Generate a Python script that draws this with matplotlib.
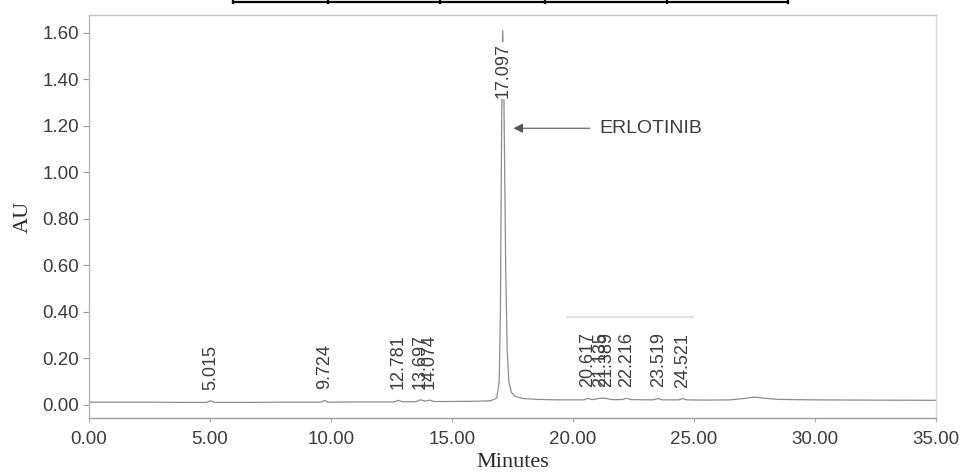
import matplotlib
matplotlib.use("Agg")
import matplotlib.pyplot as plt
from matplotlib.lines import Line2D

# Chromatogram trace (retention time in minutes, absorbance in AU)
time_min = [0.0, 1.0, 2.5, 4.0, 4.85, 5.015, 5.2, 6.5, 8.0, 9.55, 9.724, 9.9,
            11.0, 12.6, 12.781, 12.95, 13.5, 13.697, 13.9, 14.074, 14.25, 15.0,
            16.0, 16.6, 16.85, 16.95, 17.0, 17.04, 17.07, 17.097, 17.13, 17.17,
            17.22, 17.28, 17.35, 17.45, 17.6, 17.9, 18.5, 19.5, 20.45, 20.617,
            20.8, 21.135, 21.389, 21.6, 22.0, 22.216, 22.4, 23.3, 23.519, 23.7,
            24.35, 24.521, 24.7, 25.5, 26.5, 27.0, 27.5, 28.0, 28.5, 30.0, 32.0,
            35.0]
absorbance = [0.012, 0.012, 0.012, 0.011, 0.011, 0.018, 0.011, 0.011, 0.012,
              0.012, 0.019, 0.012, 0.013, 0.013, 0.020, 0.014, 0.014, 0.022,
              0.016, 0.021, 0.015, 0.015, 0.016, 0.018, 0.030, 0.100, 0.400,
              1.020, 1.450, 1.610, 1.460, 1.080, 0.580, 0.240, 0.100, 0.055,
              0.038, 0.028, 0.024, 0.022, 0.022, 0.028, 0.023, 0.029, 0.028,
              0.023, 0.023, 0.029, 0.023, 0.022, 0.028, 0.022, 0.022, 0.027,
              0.022, 0.021, 0.022, 0.027, 0.034, 0.028, 0.024, 0.022, 0.021,
              0.020]

# Integrated peaks (retention times printed above each peak)
peak_times = [5.015, 9.724, 12.781, 13.697, 14.074, 20.617, 21.135, 21.389,
              22.216, 23.519, 24.521]
main_peak_time = 17.097
main_peak_name = "ERLOTINIB"
main_peak_pointer_au = 1.19

x_ticks = [0, 5, 10, 15, 20, 25, 30, 35]
y_ticks = [0.0, 0.2, 0.4, 0.6, 0.8, 1.0, 1.2, 1.4, 1.6]

W, H = 961, 475
fig = plt.figure(figsize=(W / 100, H / 100), dpi=100)
ax = fig.add_axes([89 / W, 57 / H, 847 / W, 403 / H])

sans = ["Liberation Sans", "DejaVu Sans"]
serif = ["Liberation Serif", "DejaVu Serif"]
txt_col = "#3c3c3c"

ax.plot(time_min, absorbance, color="#8c8c8c", lw=0.9, zorder=2)

ax.set_xlim(0, 35)
ax.set_ylim(-0.056, 1.677)
ax.set_xticks(x_ticks)
ax.set_yticks(y_ticks)
ax.set_xticklabels([f"{v:.2f}" for v in x_ticks], family=sans, fontsize=13.5,
                   color=txt_col)
ax.set_yticklabels([f"{v:.2f}" for v in y_ticks], family=sans, fontsize=13.5,
                   color=txt_col)
ax.tick_params(axis="y", length=4, width=0.8, color="#9a9a9a", pad=3)
ax.tick_params(axis="x", length=3, width=0.8, color="#b0b0b0", pad=6)

for side, col in (("left", "#b4b4b4"), ("bottom", "#9e9e9e"),
                  ("top", "#c4c4c4"), ("right", "#dadada")):
    ax.spines[side].set_color(col)
    ax.spines[side].set_linewidth(1.0)

ax.set_xlabel("Minutes", family=serif, fontsize=16, color="#2a2a2a",
              labelpad=4)
ax.set_ylabel("AU", family=serif, fontsize=16, color="#2a2a2a", labelpad=7)

# retention time labels on the minor peaks
for t in peak_times:
    apex = absorbance[time_min.index(t)]
    ax.annotate(f"{t:.3f}", xy=(t, apex), xytext=(0, 8),
                textcoords="offset points", rotation=90, ha="center",
                va="bottom", family=sans, fontsize=13, color=txt_col,
                zorder=3)

# label on the main peak, printed over the peak line
main_apex = absorbance[time_min.index(main_peak_time)]
ax.annotate(f"{main_peak_time:.3f}", xy=(main_peak_time, main_apex),
            xytext=(0, -9), textcoords="offset points", rotation=90,
            ha="center", va="top", family=sans, fontsize=13, color=txt_col,
            bbox=dict(boxstyle="square,pad=0.05", fc="white", ec="none"),
            zorder=4)

# compound name with pointer
ax.annotate(main_peak_name, xy=(17.54, main_peak_pointer_au),
            xytext=(21.1, main_peak_pointer_au), textcoords="data",
            ha="left", va="center", family=sans, fontsize=14, color=txt_col,
            arrowprops=dict(arrowstyle="-|>", color="#555555", lw=0.8,
                            shrinkA=5, shrinkB=0))

# faint band marker above the late-eluting group
ax.plot([19.75, 24.95], [0.38, 0.38], color="#dcdcdc", lw=1.2, zorder=1)

# header table fragment at the top edge
tbl_x = [233, 328, 440, 545, 667, 788]
fig.add_artist(Line2D([tbl_x[0] / W, tbl_x[-1] / W], [1 - 2 / H, 1 - 2 / H],
                      transform=fig.transFigure, color="black", lw=1.6))
for xp in tbl_x:
    fig.add_artist(Line2D([xp / W, xp / W], [1 - 2.5 / H, 1.0],
                          transform=fig.transFigure, color="black", lw=1.6))

fig.savefig("out.png", dpi=100, facecolor="white")
